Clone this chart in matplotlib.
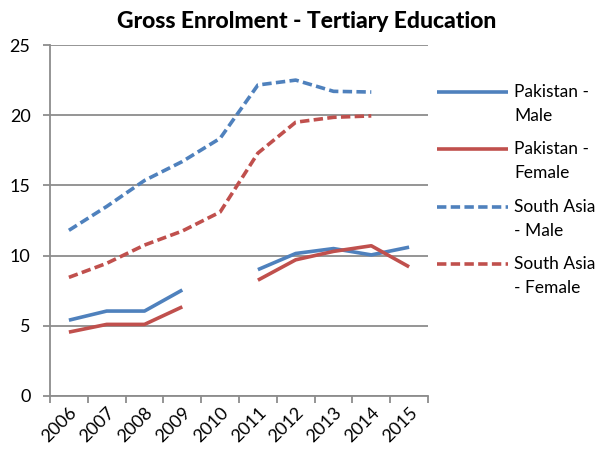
import numpy as np
import matplotlib
matplotlib.use("Agg")
import matplotlib.pyplot as plt
from matplotlib.lines import Line2D

years = ["2006", "2007", "2008", "2009", "2010", "2011", "2012", "2013", "2014", "2015"]
pak_male = [5.4, 6.05, 6.05, 7.55, np.nan, 9.0, 10.15, 10.5, 10.05, 10.6]
pak_female = [4.55, 5.1, 5.1, 6.35, np.nan, 8.25, 9.7, 10.3, 10.7, 9.2]
sa_male = [11.8, 13.5, 15.35, 16.7, 18.35, 22.15, 22.5, 21.7, 21.65, np.nan]
sa_female = [8.45, 9.45, 10.75, 11.75, 13.1, 17.3, 19.5, 19.85, 19.95, np.nan]
labels = ["Pakistan -\nMale", "Pakistan -\nFemale", "South Asia\n- Male", "South Asia\n- Female"]
title = "Gross Enrolment - Tertiary Education"

BLUE = "#4F81BD"
RED = "#C0504D"
GRID = "#8C8C8C"

plt.rcParams['font.family'] = ['Lato', 'DejaVu Sans']

fig = plt.figure(figsize=(6.04, 4.5), dpi=100)
ax = fig.add_axes([50/604, 1-396/450, (428-50)/604, (396-45)/450])

x = np.arange(len(years))
lw = 2.6
DASH = (2.6, 1.2)
series = [(pak_male, BLUE, None), (pak_female, RED, None),
          (sa_male, BLUE, DASH), (sa_female, RED, DASH)]
lines = []
for (vals, col, dash), lab in zip(series, labels):
    if dash is None:
        ln, = ax.plot(x, vals, color=col, lw=lw, label=lab, solid_capstyle='butt')
    else:
        ln, = ax.plot(x, vals, color=col, lw=lw, label=lab, dashes=dash, dash_capstyle='butt')
    lines.append(ln)

ax.set_xlim(-0.5, len(years) - 0.5)
ax.set_ylim(0, 25)
ax.set_yticks([0, 5, 10, 15, 20, 25])
ax.yaxis.grid(True, color=GRID, lw=1.3)
ax.set_axisbelow(True)

ax.set_xticks(np.arange(-0.5, len(years), 1.0))
ax.set_xticklabels([])
ax.set_xticks(x, minor=True)
ax.set_xticklabels(years, minor=True, rotation=45, ha='right', va='top',
                   rotation_mode='anchor', fontsize=13)
ax.tick_params(axis='x', which='minor', length=0, pad=6)
ax.tick_params(axis='x', which='major', length=5, color=GRID, width=1.3)
ax.tick_params(axis='y', length=5, color=GRID, width=1.3, labelsize=13, pad=9)

for s in ['top', 'right']:
    ax.spines[s].set_visible(False)
for s in ['left', 'bottom']:
    ax.spines[s].set_color(GRID)
    ax.spines[s].set_linewidth(1.3)

fig.text(0.508, 0.952, title, ha='center', va='center', fontsize=16.5, fontweight='black')

# legend: handle aligned with first text line
W, H = 604.0, 450.0
y0, dy = 92.0, 57.3
for i, ln in enumerate(lines):
    yy = 1 - (y0 + i * dy) / H
    h = Line2D([437 / W, 508 / W], [yy, yy], transform=fig.transFigure,
               color=ln.get_color(), lw=lw, linestyle=ln.get_linestyle(),
               solid_capstyle='butt', dash_capstyle='butt')
    if i >= 2:
        h.set_dashes(DASH)
    fig.add_artist(h)
    first, second = ln.get_label().split("\n")
    fig.text(514 / W, yy, first, ha='left', va='center', fontsize=12.5)
    fig.text(514 / W, 1 - (y0 + i * dy + 24) / H, second, ha='left', va='center', fontsize=12.5)

fig.savefig("out.png", dpi=100)
